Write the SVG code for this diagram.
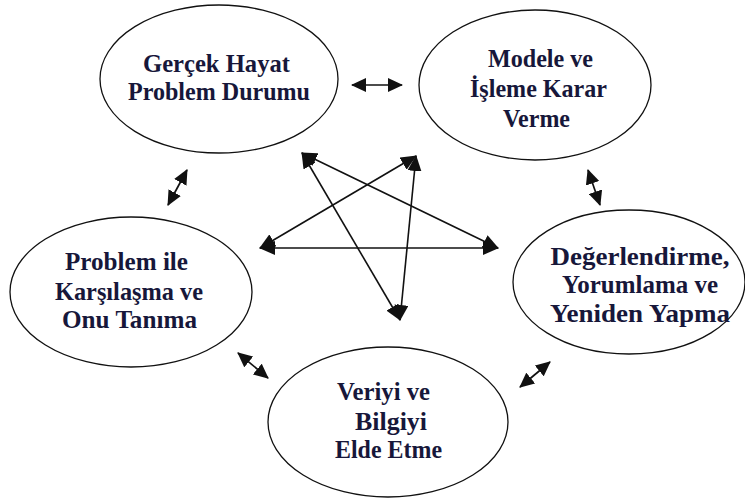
<svg xmlns="http://www.w3.org/2000/svg" width="745" height="499" viewBox="0 0 745 499">
  <style>
    .node ellipse { fill: #ffffff; stroke: #111111; stroke-width: 1.3; }
    .node text { font-family: "Liberation Serif", "Times New Roman", serif; font-weight: bold; font-size: 26px; fill: #17173a; text-anchor: middle; lengthAdjust: spacingAndGlyphs; }
    .link { stroke: #111111; stroke-width: 1.7; fill: none; marker-start: url(#head); marker-end: url(#head); }
    .star { stroke: #111111; stroke-width: 1.6; fill: none; marker-start: url(#headS); marker-end: url(#headS); }
  </style>
  <defs>
    <marker id="head" viewBox="0 0 15 14" refX="14" refY="7" markerWidth="15" markerHeight="14" markerUnits="userSpaceOnUse" orient="auto-start-reverse">
      <path d="M0,0 L15,7 L0,14 z" fill="#111111"/>
    </marker>
    <marker id="headS" viewBox="0 0 16 14" refX="15" refY="7" markerWidth="16" markerHeight="14" markerUnits="userSpaceOnUse" orient="auto-start-reverse">
      <path d="M0,0 L16,7 L0,14 z" fill="#111111"/>
    </marker>
  </defs>

  <!-- nodes -->
  <g id="gercek-hayat" class="node">
    <ellipse cx="219" cy="79" rx="119" ry="74"/>
    <text x="216.5" y="72" textLength="147" lengthAdjust="spacingAndGlyphs">Gerçek Hayat</text>
    <text x="219" y="100" textLength="182" lengthAdjust="spacingAndGlyphs">Problem Durumu</text>
  </g>
  <g id="modele-isleme" class="node">
    <ellipse cx="535" cy="85" rx="116" ry="75"/>
    <text x="540.5" y="67" textLength="105" lengthAdjust="spacingAndGlyphs">Modele ve</text>
    <text x="538.5" y="97" textLength="137" lengthAdjust="spacingAndGlyphs">İşleme Karar</text>
    <text x="536.5" y="127" textLength="67" lengthAdjust="spacingAndGlyphs">Verme</text>
  </g>
  <g id="problem-ile" class="node">
    <ellipse cx="131" cy="292" rx="121" ry="75"/>
    <text x="126.5" y="270" textLength="123" lengthAdjust="spacingAndGlyphs">Problem ile</text>
    <text x="129" y="300" textLength="148" lengthAdjust="spacingAndGlyphs">Karşılaşma ve</text>
    <text x="129.5" y="328" textLength="135" lengthAdjust="spacingAndGlyphs">Onu Tanıma</text>
  </g>
  <g id="degerlendirme" class="node">
    <ellipse cx="629" cy="282" rx="116" ry="72"/>
    <text x="640" y="265" textLength="179" lengthAdjust="spacingAndGlyphs">Değerlendirme,</text>
    <text x="640" y="293" textLength="156" lengthAdjust="spacingAndGlyphs">Yorumlama ve</text>
    <text x="640" y="322" textLength="180" lengthAdjust="spacingAndGlyphs">Yeniden Yapma</text>
  </g>
  <g id="veriyi-bilgiyi" class="node">
    <ellipse cx="388" cy="422" rx="120" ry="75"/>
    <text x="383.5" y="400" textLength="93" lengthAdjust="spacingAndGlyphs">Veriyi ve</text>
    <text x="391" y="430" textLength="72" lengthAdjust="spacingAndGlyphs">Bilgiyi</text>
    <text x="388.5" y="458" textLength="107" lengthAdjust="spacingAndGlyphs">Elde Etme</text>
  </g>

  <!-- connectors -->
  <g id="connectors">
    <line class="link" x1="352" y1="85" x2="402" y2="85"/>
    <line class="link" x1="187" y1="170" x2="168" y2="205"/>
    <line class="link" x1="588" y1="170" x2="600" y2="205"/>
    <line class="link" x1="238" y1="353" x2="268" y2="378"/>
    <line class="link" x1="550" y1="362" x2="520" y2="387"/>

    <!-- central star -->
    <line class="star" x1="260" y1="248" x2="498" y2="248"/>
    <line class="star" x1="302" y1="153" x2="498" y2="248"/>
    <line class="star" x1="302" y1="153" x2="400" y2="320"/>
    <line class="star" x1="416" y1="156" x2="260" y2="248"/>
    <line class="star" x1="416" y1="156" x2="400" y2="320"/>
  </g>
</svg>
